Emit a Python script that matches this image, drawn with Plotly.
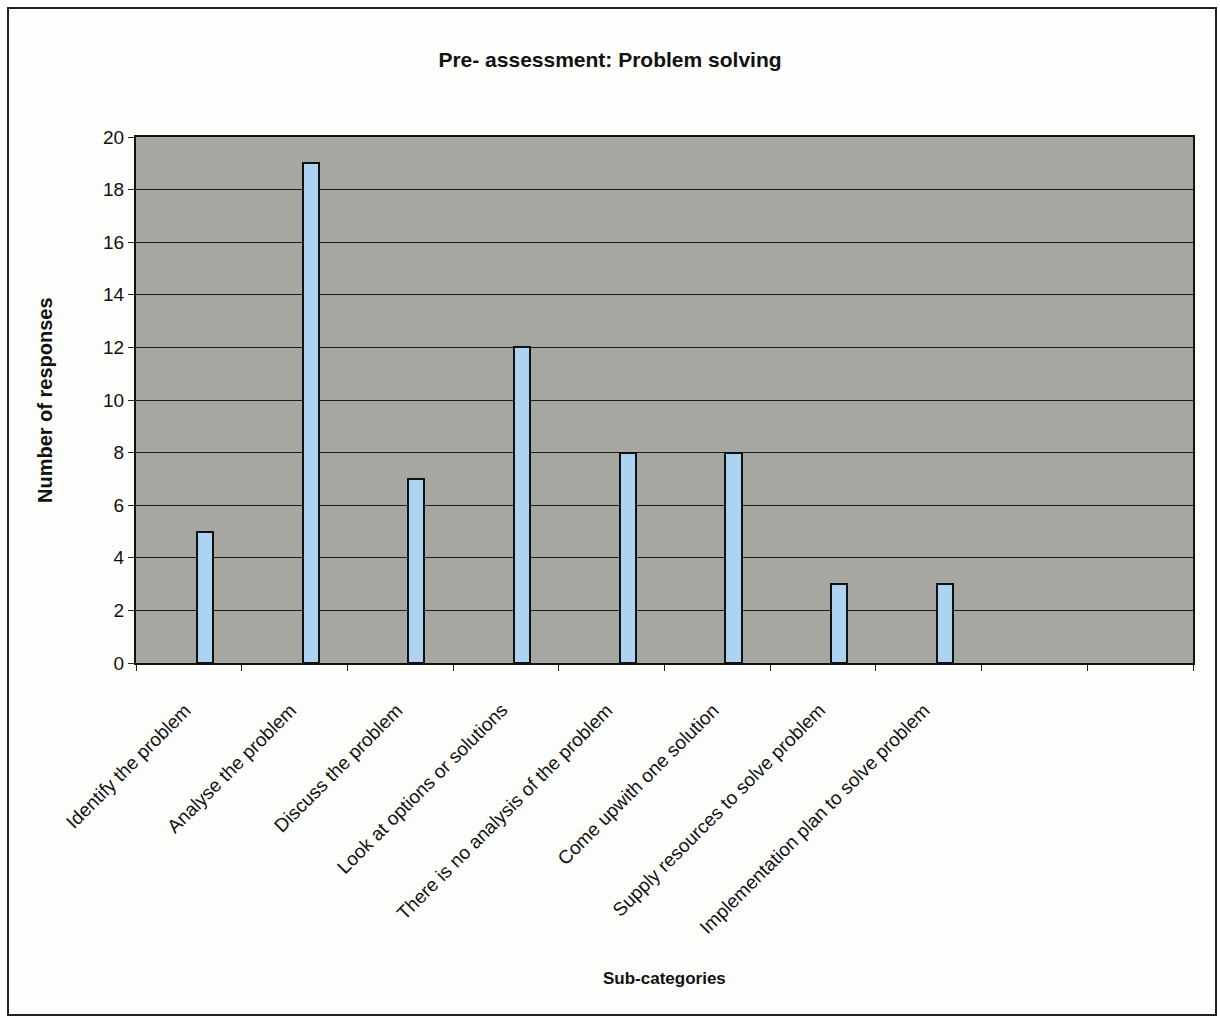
import plotly.graph_objects as go

# Survey results: pre-assessment of problem-solving sub-categories
categories = [
    "Identify the problem",
    "Analyse the problem",
    "Discuss the problem",
    "Look at options or solutions",
    "There is no analysis of the problem",
    "Come upwith one solution",
    "Supply resources to solve problem",
    "Implementation plan to solve problem",
]
responses = [5, 19, 7, 12, 8, 8, 3, 3]
n_slots = 10          # category slots on the axis (last two are empty)
y_ticks = list(range(0, 21, 2))

W, H = 1220, 1018
M_L, M_R, M_T, M_B = 136, 27, 137, 355
PW = W - M_L - M_R
PH = H - M_T - M_B

FONT = "Liberation Sans, Arial, sans-serif"
BAR_OFFSET = 0.653    # bar sits right of the slot centre
BAR_WIDTH = 0.152

xs = [i + BAR_OFFSET for i in range(len(categories))]

fig = go.Figure()
fig.add_trace(go.Bar(
    x=xs, y=responses, width=BAR_WIDTH,
    marker=dict(color="#acd4f2", line=dict(color="#111111", width=2)),
    hoverinfo="y", showlegend=False,
))

# rotated category labels, right end tucked under each slot
annotations = []
for i, name in enumerate(categories):
    annotations.append(dict(
        x=i + 0.58, xref="x", y=0, yref="paper",
        yshift=-34, text=name, textangle=-45, showarrow=False,
        xanchor="right", yanchor="top",
        font=dict(family=FONT, size=19, color="#111111"),
    ))

# y-axis title
annotations.append(dict(
    x=-(M_L - 45) / PW, xref="paper", y=0.5, yref="paper",
    text="<b>Number of responses</b>", textangle=-90, showarrow=False,
    xanchor="center", yanchor="middle",
    font=dict(family=FONT, size=20, color="#111111"),
))
# x-axis title
annotations.append(dict(
    x=0.5, xref="paper", y=-(978 - (M_T + PH)) / PH, yref="paper",
    text="<b>Sub-categories</b>", showarrow=False,
    xanchor="center", yanchor="middle",
    font=dict(family=FONT, size=17, color="#111111"),
))

# frame around the whole chart
shapes = [dict(
    type="rect", xref="paper", yref="paper",
    x0=(8 - M_L) / PW, x1=(1216 - M_L) / PW,
    y0=-(1015 - M_T - PH) / PH, y1=1 + (M_T - 8) / PH,
    line=dict(color="#222222", width=2), fillcolor="rgba(0,0,0,0)",
    layer="below",
)]

fig.update_layout(
    width=W, height=H,
    margin=dict(l=M_L, r=M_R, t=M_T, b=M_B),
    paper_bgcolor="#fdfdfb",
    plot_bgcolor="#a6a7a1",
    title=dict(
        text="<b>Pre- assessment: Problem solving</b>",
        x=0.5, xref="container", xanchor="center",
        y=1 - 60 / H, yref="container", yanchor="middle",
        font=dict(family=FONT, size=21, color="#111111"),
    ),
    xaxis=dict(
        range=[0, n_slots], tickmode="array",
        tickvals=list(range(n_slots + 1)), ticks="outside",
        ticklen=6, tickcolor="#222222", tickwidth=1,
        showticklabels=False, showgrid=False, zeroline=False,
        showline=True, linecolor="#111111", linewidth=2, mirror=True,
    ),
    yaxis=dict(
        range=[0, 20], tickmode="array", tickvals=y_ticks,
        ticks="outside", ticklen=6, tickcolor="#222222",
        tickfont=dict(family=FONT, size=19, color="#111111"),
        showgrid=True, gridcolor="#1a1a1a", gridwidth=1,
        zeroline=False,
        showline=True, linecolor="#111111", linewidth=2, mirror=True,
    ),
    annotations=annotations,
    shapes=shapes,
    bargap=0,
)

fig.write_html("out.html")
